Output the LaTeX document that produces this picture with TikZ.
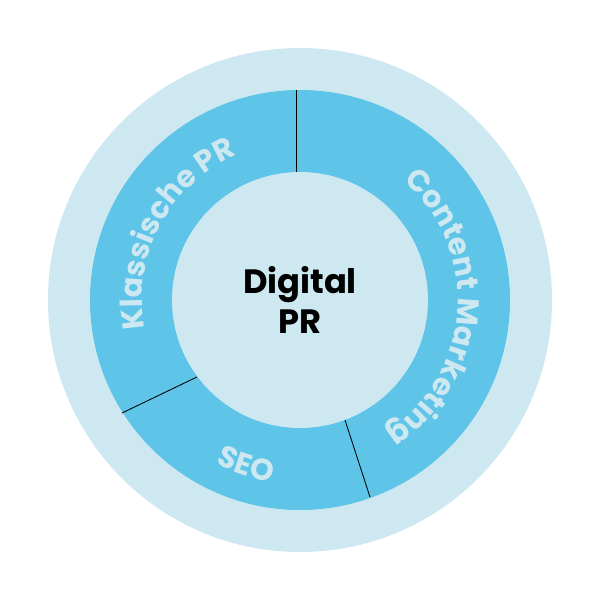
\documentclass[tikz,border=0pt]{standalone}
\usepackage{fontspec}
\setmainfont{Poppins}
\usetikzlibrary{decorations.text}

\definecolor{ringblue}{RGB}{94,196,232}
\definecolor{paleblue}{RGB}{205,232,241}

\tikzset{
  divider/.style={draw=black, line width=0.6pt},
  ringlabel/.style={decorate, decoration={text along path, text align=center,
      text color=paleblue, text={|\fontsize{21.5}{21.5}\selectfont\bfseries|#1}}}
}

\begin{document}
\begin{tikzpicture}
  \useasboundingbox (-7.5,-7.5) rectangle (7.5,7.5);

  % ── Discs: outer halo, ring, centre ──────────────────────────────
  \fill[paleblue] (0,0) circle (6.3);
  \fill[ringblue] (0,0) circle (5.25);
  \fill[paleblue] (0,0) circle (3.2);

  % ── Segment borders ──────────────────────────────────────────────
  \coordinate (topOut)   at (-0.1,   5.25);
  \coordinate (topIn)    at (-0.1,   3.2);
  \coordinate (leftOut)  at (-4.45, -2.825);
  \coordinate (leftIn)   at (-2.575,-1.925);
  \coordinate (rightOut) at (1.75,  -4.925);
  \coordinate (rightIn)  at (1.125, -3.0);

  \draw[divider] (topIn)   -- (topOut);
  \draw[divider] (leftIn)  -- (leftOut);
  \draw[divider] (rightIn) -- (rightOut);

  % ── Ring labels ──────────────────────────────────────────────────
  \path[ringlabel={Klassische PR}]     (200:3.95) arc (200:104:3.95);
  \path[ringlabel={Content Marketing}] (70:3.95)  arc (70:-78:3.95);
  \path[ringlabel={SEO}]               (222:4.6)  arc (222:282:4.6);

  % ── Centre label ─────────────────────────────────────────────────
  \node[align=center, font=\fontsize{24}{28.5}\selectfont\bfseries] (title) at (0,0) {Digital\\PR};
\end{tikzpicture}
\end{document}
